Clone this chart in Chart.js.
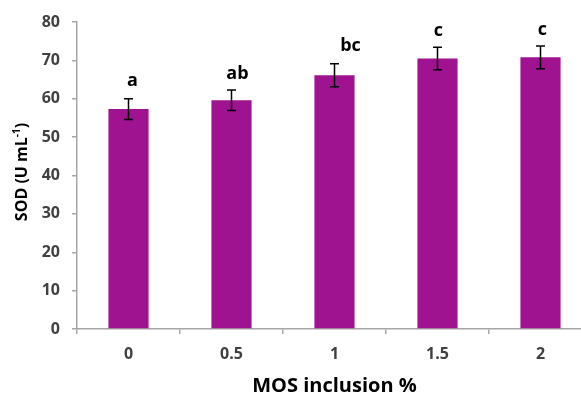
<!DOCTYPE html>
<html>
<head>
<meta charset="utf-8">
<script src="https://cdn.jsdelivr.net/npm/chart.js@4/dist/chart.umd.min.js"></script>
<style>
  html, body { margin: 0; padding: 0; background: #fff; }
  #wrap { width: 581px; height: 396px; overflow: hidden; position: relative; }
  #box { width: 600px; height: 396px; }
</style>
</head>
<body>
<div id="wrap"><div id="box"><canvas id="c"></canvas></div></div>
<script>
// MOS inclusion level (%) and superoxide dismutase activity
const categories = ['0', '0.5', '1', '1.5', '2'];
const sodMean = [57.3, 59.6, 66.1, 70.5, 70.8];
const sodErr = [2.7, 2.65, 3.0, 2.95, 2.95];
const groupLetters = ['a', 'ab', 'bc', 'c', 'c'];

const FONT = '"Open Sans", Lato, sans-serif';
const AXIS_GRAY = '#a6a6a6';
const TICK_TEXT = '#404040';

// error bars and significance letters above each bar
const errorBarPlugin = {
  id: 'errorBars',
  afterDatasetsDraw(chart, args, opts) {
    const ctx = chart.ctx;
    const y = chart.scales.y;
    const meta = chart.getDatasetMeta(0);
    ctx.save();
    meta.data.forEach((bar, i) => {
      const x = bar.x;
      const top = y.getPixelForValue(sodMean[i] + sodErr[i]);
      const bot = y.getPixelForValue(sodMean[i] - sodErr[i]);
      ctx.strokeStyle = '#000';
      ctx.lineWidth = 1.5;
      ctx.beginPath();
      ctx.moveTo(x, top); ctx.lineTo(x, bot);
      ctx.moveTo(x - 4.5, top); ctx.lineTo(x + 4.5, top);
      ctx.moveTo(x - 4.5, bot); ctx.lineTo(x + 4.5, bot);
      ctx.stroke();
      ctx.fillStyle = '#000';
      ctx.font = 'bold 18px ' + FONT;
      ctx.textAlign = 'center';
      ctx.textBaseline = 'alphabetic';
      ctx.fillText(groupLetters[i], x + opts.dx[i], top - opts.gap[i]);
    });
    ctx.restore();
  }
};

// axis titles (y title carries a superscript)
const axisTitlePlugin = {
  id: 'axisTitles',
  afterDraw(chart) {
    const ctx = chart.ctx;
    const area = chart.chartArea;
    ctx.save();
    ctx.fillStyle = '#000';
    ctx.textBaseline = 'middle';
    // x title
    ctx.font = 'bold 20px ' + FONT;
    ctx.textAlign = 'center';
    ctx.fillText('MOS inclusion %', (area.left + area.right) / 2, 386);
    // y title, rotated
    ctx.translate(22, 172);
    ctx.rotate(-Math.PI / 2);
    const main = 'SOD (U mL';
    const sup = '-1';
    const tail = ')';
    const big = 'bold 16px ' + FONT;
    const small = 'bold 10px ' + FONT;
    ctx.font = big; const w1 = ctx.measureText(main).width; const w3 = ctx.measureText(tail).width;
    ctx.font = small; const w2 = ctx.measureText(sup).width;
    let sx = -(w1 + w2 + w3) / 2;
    ctx.textAlign = 'left';
    ctx.font = big; ctx.fillText(main, sx, 0); sx += w1;
    ctx.font = small; ctx.fillText(sup, sx, -5); sx += w2;
    ctx.font = big; ctx.fillText(tail, sx, 0);
    ctx.restore();
  }
};

new Chart(document.getElementById('c'), {
  type: 'bar',
  data: {
    labels: categories,
    datasets: [{
      data: sodMean,
      backgroundColor: '#a01390',
      borderWidth: 0,
      categoryPercentage: 1,
      barPercentage: 0.39
    }]
  },
  options: {
    responsive: true,
    maintainAspectRatio: false,
    animation: false,
    events: [],
    layout: { padding: { top: 22, right: 8, left: 0, bottom: 0 } },
    plugins: {
      legend: { display: false },
      tooltip: { enabled: false },
      errorBars: { dx: [4, 6, 16, 1, 2], gap: [13, 11, 13, 11, 11] }
    },
    scales: {
      x: {
        afterFit(s) { s.height = 67; },
        border: { color: AXIS_GRAY, width: 1.5 },
        grid: { display: true, drawOnChartArea: false, drawTicks: true, tickLength: 5, color: AXIS_GRAY, lineWidth: 1.5, offset: true },
        ticks: { color: TICK_TEXT, font: { family: FONT, size: 16, weight: 'bold' }, padding: 11 }
      },
      y: {
        min: 0, max: 80,
        afterFit(s) { s.width = 77; },
        border: { color: AXIS_GRAY, width: 1.5 },
        grid: { display: true, drawOnChartArea: false, drawTicks: true, tickLength: 5, color: AXIS_GRAY, lineWidth: 1.5 },
        ticks: { stepSize: 10, color: TICK_TEXT, font: { family: FONT, size: 16, weight: 'bold' }, padding: 12 }
      }
    }
  },
  plugins: [errorBarPlugin, axisTitlePlugin]
});
</script>
</body>
</html>
